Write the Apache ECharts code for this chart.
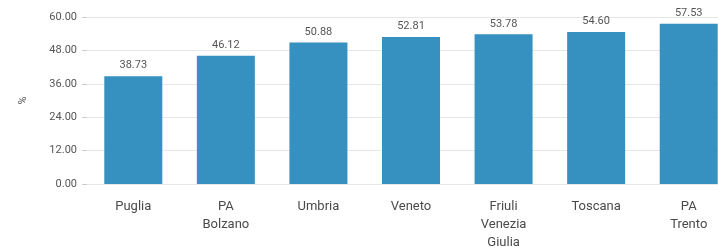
<!DOCTYPE html>
<html>
<head>
<meta charset="utf-8">
<script src="https://cdn.jsdelivr.net/npm/echarts@6/dist/echarts.min.js"></script>
<style>
  html, body { margin: 0; padding: 0; overflow: hidden; background: #fff; }
  #chart { width: 735px; height: 252px; }
</style>
</head>
<body>
<div id="chart"></div>
<script>
var categories = ['Puglia', 'PA\nBolzano', 'Umbria', 'Veneto', 'Friuli\nVenezia\nGiulia', 'Toscana', 'PA\nTrento'];
var values = [38.73, 46.12, 50.88, 52.81, 53.78, 54.60, 57.53];
var yMin = 0, yMax = 60, yStep = 12;

var font = 'Roboto, sans-serif';

var chart = echarts.init(document.getElementById('chart'));
chart.setOption({
    animation: false,
    grid: { left: 87, right: 0, top: 17, bottom: 68 },
    xAxis: {
        type: 'category',
        data: categories,
        axisLine: { lineStyle: { color: '#e6e6e6' } },
        axisTick: { show: false },
        axisLabel: {
            color: '#4a4a4a',
            fontFamily: font,
            fontSize: 13,
            lineHeight: 18,
            margin: 14,
            interval: 0
        }
    },
    yAxis: {
        type: 'value',
        min: yMin,
        max: yMax,
        interval: yStep,
        name: '%',
        nameLocation: 'middle',
        nameRotate: 90,
        nameGap: 58,
        nameTextStyle: { color: '#555', fontFamily: font, fontSize: 11 },
        axisLine: { show: false },
        axisTick: { show: true, length: 5, lineStyle: { color: '#ccc' } },
        axisLabel: {
            color: '#555',
            fontFamily: font,
            fontSize: 11,
            margin: 10,
            formatter: function (v) { return v.toFixed(2); }
        },
        splitLine: { lineStyle: { color: '#e6e6e6' } }
    },
    series: [{
        type: 'bar',
        data: values,
        barWidth: 58,
        itemStyle: { color: '#3690c0' },
        label: {
            show: true,
            position: 'top',
            distance: 5,
            color: '#555',
            fontFamily: font,
            fontSize: 11,
            formatter: function (p) { return p.value.toFixed(2); }
        }
    }]
});
</script>
</body>
</html>
